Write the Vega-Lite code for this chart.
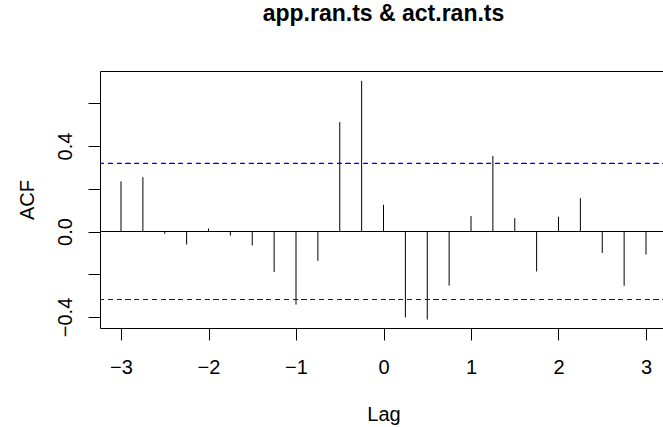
{
  "$schema": "https://vega.github.io/schema/vega-lite/v6.json",
  "width": 567,
  "height": 257,
  "autosize": {"type": "none"},
  "padding": {"left": 100, "top": 71, "right": 0, "bottom": 99},
  "background": "white",
  "title": {
    "text": "app.ran.ts & act.ran.ts",
    "anchor": "middle",
    "frame": "group",
    "baseline": "alphabetic",
    "offset": 27,
    "font": "Liberation Sans",
    "fontSize": 23,
    "fontWeight": "bold",
    "color": "black"
  },
  "config": {
    "view": {"stroke": "black", "strokeWidth": 1},
    "axis": {
      "labelFont": "Liberation Sans",
      "titleFont": "Liberation Sans",
      "labelFontSize": 20,
      "titleFontSize": 20,
      "labelColor": "black",
      "titleColor": "black",
      "titleFontWeight": "normal",
      "tickColor": "black",
      "tickWidth": 1,
      "tickSize": 12,
      "domain": false,
      "grid": false
    }
  },
  "data": {
    "values": [
      {"lag": -3.0, "acf": 0.235},
      {"lag": -2.75, "acf": 0.254},
      {"lag": -2.5, "acf": -0.011},
      {"lag": -2.25, "acf": -0.061},
      {"lag": -2.0, "acf": 0.014},
      {"lag": -1.75, "acf": -0.019},
      {"lag": -1.5, "acf": -0.065},
      {"lag": -1.25, "acf": -0.189},
      {"lag": -1.0, "acf": -0.342},
      {"lag": -0.75, "acf": -0.137},
      {"lag": -0.5, "acf": 0.512},
      {"lag": -0.25, "acf": 0.705},
      {"lag": 0.0, "acf": 0.125},
      {"lag": 0.25, "acf": -0.402},
      {"lag": 0.5, "acf": -0.412},
      {"lag": 0.75, "acf": -0.253},
      {"lag": 1.0, "acf": 0.072},
      {"lag": 1.25, "acf": 0.354},
      {"lag": 1.5, "acf": 0.062},
      {"lag": 1.75, "acf": -0.187},
      {"lag": 2.0, "acf": 0.069},
      {"lag": 2.25, "acf": 0.156},
      {"lag": 2.5, "acf": -0.1},
      {"lag": 2.75, "acf": -0.254},
      {"lag": 3.0, "acf": -0.108}
    ]
  },
  "layer": [
    {
      "mark": {"type": "rule", "color": "black", "strokeWidth": 1},
      "encoding": {
        "x": {
          "field": "lag",
          "type": "quantitative",
          "scale": {"domain": [-3.24, 3.24], "nice": false, "zero": false},
          "axis": {
            "title": "Lag",
            "values": [-3, -2, -1, 0, 1, 2, 3],
            "labelExpr": "datum.value < 0 ? '\u2212' + abs(datum.value) : '' + datum.value",
            "labelBaseline": "alphabetic",
            "labelPadding": 33,
            "titleBaseline": "alphabetic",
            "titleY": 92,
            "labelFlush": false,
            "labelOverlap": false
          }
        },
        "y": {
          "field": "acf",
          "type": "quantitative",
          "scale": {"domain": [-0.4515, 0.751], "nice": false, "zero": false},
          "axis": {
            "title": "ACF",
            "values": [-0.4, -0.2, 0, 0.2, 0.4, 0.6],
            "labelExpr": "abs(datum.value) < 1e-9 ? '0.0' : (abs(datum.value - 0.4) < 1e-9 ? '0.4' : (abs(datum.value + 0.4) < 1e-9 ? '\u22120.4' : ''))",
            "labelAngle": -90,
            "labelAlign": "center",
            "labelBaseline": "alphabetic",
            "labelPadding": 16.3,
            "labelFlush": false,
            "labelOverlap": false,
            "titleAngle": -90,
            "titleAlign": "center",
            "titleBaseline": "alphabetic",
            "titleX": -66.7,
            "titleY": 128.5
          }
        },
        "y2": {"datum": 0}
      }
    },
    {
      "mark": {"type": "rule", "color": "black", "strokeWidth": 1},
      "encoding": {"y": {"datum": 0}}
    },
    {
      "mark": {"type": "rule", "color": "#0000ff", "strokeWidth": 1, "strokeDash": [4.4, 4.4]},
      "encoding": {"y": {"datum": 0.3182}}
    },
    {
      "mark": {"type": "rule", "color": "#0000ff", "strokeWidth": 1, "strokeDash": [4.4, 4.4]},
      "encoding": {"y": {"datum": -0.3182}}
    }
  ]
}
